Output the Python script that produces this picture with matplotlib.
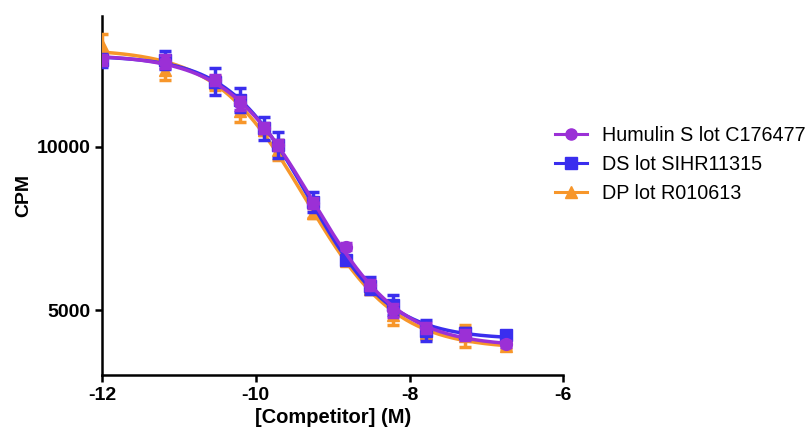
import numpy as np
import matplotlib
matplotlib.use("Agg")
import matplotlib.pyplot as plt

plt.rcParams['font.family'] = ['Liberation Sans', 'DejaVu Sans']
plt.rcParams['axes.unicode_minus'] = False

# log10 competitor concentration (M)
log_conc = [-12, -11.18, -10.53, -10.21, -9.89, -9.71, -9.26, -8.83, -8.52, -8.21, -7.78, -7.28, -6.74]

humulin = [12650, 12600, 12040, 11330, 10560, 10050, 8270, 6940, 5770, 5000, 4440, 4240, 3960]
humulin_err = [150, 200, 150, 200, 150, 150, 150, 100, 150, 200, 150, 150, 100]

ds = [12650, 12650, 11990, 11430, 10560, 10050, 8300, 6530, 5750, 5150, 4370, 4300, 4240]
ds_err = [200, 280, 410, 360, 360, 410, 300, 120, 250, 300, 330, 150, 120]

dp = [13100, 12350, 11950, 11100, 10500, 9900, 7980, 6500, 5650, 4850, 4300, 4200, 3900]
dp_err = [350, 300, 200, 330, 150, 300, 150, 100, 150, 300, 200, 340, 100]

labels = ["Humulin S lot C176477", "DS lot SIHR11315", "DP lot R010613"]
colors = ["#9B30D6", "#3A2EEE", "#F7962A"]
markers = ["o", "s", "^"]


def fit_4pl(x, y):
    # one-site competition fit: grid over logIC50 / hill, top & bottom by lstsq
    x = np.asarray(x, float)
    y = np.asarray(y, float)
    best = None
    for c in np.linspace(-10.5, -8.0, 251):
        for h in np.linspace(0.4, 1.6, 121):
            f = 1.0 / (1.0 + 10 ** ((x - c) * h))
            A = np.column_stack([f, 1 - f])
            coef, res, _, _ = np.linalg.lstsq(A, y, rcond=None)
            err = np.sum((A @ coef - y) ** 2)
            if best is None or err < best[0]:
                best = (err, coef[0], coef[1], c, h)
    _, top, bottom, c, h = best
    return lambda xx: bottom + (top - bottom) / (1 + 10 ** ((xx - c) * h))


fig = plt.figure(figsize=(8.12, 4.37), dpi=100)
ax = fig.add_axes([0.1256, 0.141, 0.5681, 0.8224])

# drawn back to front: DP, DS, then Humulin on top
series = [(dp, dp_err, 2), (ds, ds_err, 1), (humulin, humulin_err, 0)]
xs = np.linspace(min(log_conc), max(log_conc), 300)
for k, (vals, errs, i) in enumerate(series):
    z = 2 + 3 * k
    curve = fit_4pl(log_conc, vals)
    ax.plot(xs, curve(xs), color=colors[i], lw=2.5, zorder=z)
    ax.errorbar(log_conc, vals, yerr=errs, fmt='none', ecolor=colors[i],
                elinewidth=2.5, capsize=4.5, capthick=2.5, zorder=z + 1)
    ax.plot(log_conc, vals, ls='none', marker=markers[i], ms=8.5,
            color=colors[i], zorder=z + 2)

# legend proxies: line with marker
handles = [plt.Line2D([], [], color=colors[i], lw=2.2, marker=markers[i], ms=8)
           for i in range(3)]
ax.legend(handles, labels, loc='upper left', bbox_to_anchor=(0.965, 0.715),
          frameon=False, fontsize=14.2, handlelength=1.6, handletextpad=0.8,
          labelspacing=0.5, borderaxespad=0)

ax.set_xlim(-12, -6)
ax.set_ylim(3000, 14000)
ax.set_xticks([-12, -10, -8, -6])
ax.set_yticks([5000, 10000])
ax.set_xlabel('[Competitor] (M)', fontsize=14.5, fontweight='bold', labelpad=3)
ax.set_ylabel('CPM', fontsize=14, fontweight='bold', labelpad=3)
ax.tick_params(labelsize=14, width=1.8, length=5, direction='out')
for lab in ax.get_xticklabels() + ax.get_yticklabels():
    lab.set_fontweight('bold')

for side in ['top', 'right']:
    ax.spines[side].set_visible(False)
for side in ['left', 'bottom']:
    ax.spines[side].set_linewidth(1.8)

fig.savefig('out.png', dpi=100)
